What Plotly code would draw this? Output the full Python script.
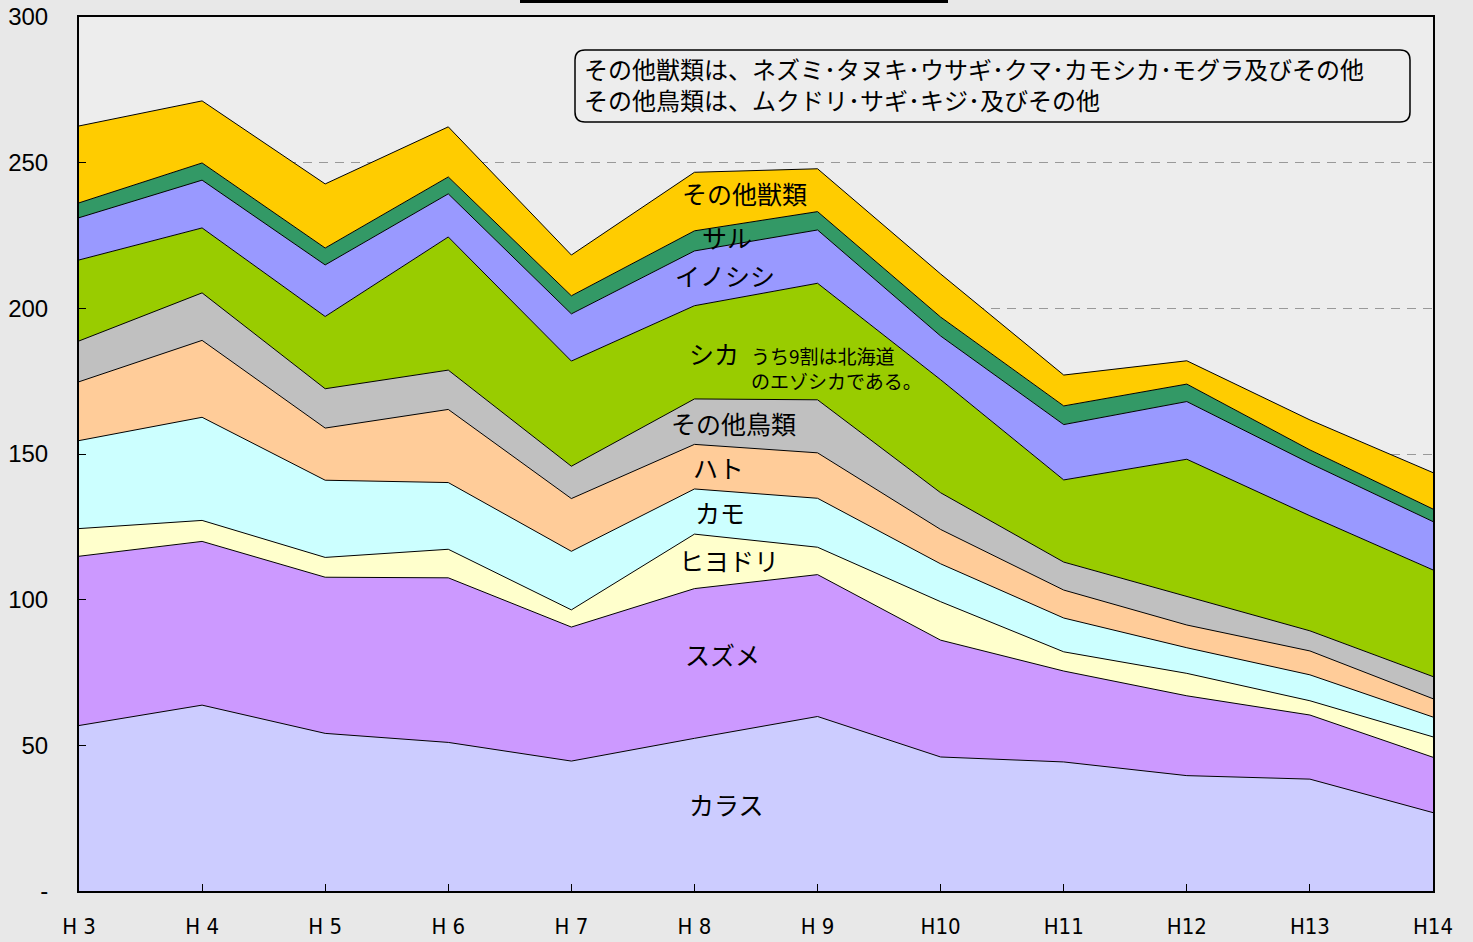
import plotly.graph_objects as go

years = ["H 3", "H 4", "H 5", "H 6", "H 7", "H 8", "H 9", "H10", "H11", "H12", "H13", "H14"]

# individual series values (stacked bottom -> top)
karasu   = [56.8, 63.8, 54.1, 51.0, 44.6, 52.4, 59.9, 46.0, 44.3, 39.6, 38.4, 26.9]
suzume   = [58.1, 56.2, 53.6, 56.5, 46.0, 51.4, 48.7, 40.1, 31.2, 27.4, 22.0, 19.0]
hiyodori = [9.5, 7.2, 6.8, 9.8, 5.9, 18.7, 9.4, 13.2, 6.6, 7.7, 4.9, 7.0]
kamo     = [30.2, 35.4, 26.5, 22.9, 20.1, 15.5, 16.8, 13.0, 11.6, 8.8, 8.9, 6.8]
hato     = [20.2, 26.4, 17.9, 25.1, 18.1, 15.3, 15.6, 11.8, 9.6, 7.8, 8.2, 6.3]
other_birds = [14.0, 16.3, 13.5, 13.5, 11.1, 15.6, 18.2, 12.6, 9.6, 9.7, 6.9, 7.6]
shika    = [27.8, 22.3, 24.8, 45.7, 36.1, 32.0, 40.0, 38.8, 28.2, 47.2, 39.5, 36.6]
inoshishi = [14.5, 16.4, 17.7, 14.8, 16.2, 18.8, 18.3, 15.0, 19.0, 19.8, 18.0, 16.6]
saru     = [5.1, 5.9, 5.8, 5.8, 6.2, 6.9, 6.3, 6.5, 6.4, 6.0, 4.6, 4.3]
other_beasts = [26.4, 21.3, 22.0, 17.2, 14.0, 20.1, 14.7, 14.8, 10.6, 8.0, 10.3, 12.5]

series_names = ["カラス", "スズメ", "ヒヨドリ", "カモ", "ハト", "その他鳥類", "シカ", "イノシシ", "サル", "その他獣類"]
series_values = [karasu, suzume, hiyodori, kamo, hato, other_birds, shika, inoshishi, saru, other_beasts]
series_colors = ["#CCCCFF", "#CC99FF", "#FFFFCC", "#CCFFFF", "#FFCC99", "#C0C0C0",
                 "#99CC00", "#9999FF", "#339966", "#FFCC00"]

y_tickvals = [0, 50, 100, 150, 200, 250, 300]
y_ticktext = ["-", "50", "100", "150", "200", "250", "300"]

note_text = ("その他獣類は、ネズミ･タヌキ･ウサギ･クマ･カモシカ･モグラ及びその他<br>"
             "その他鳥類は、ムクドリ･サギ･キジ･及びその他")
shika_note = "うち9割は北海道<br>のエゾシカである。"

xs = list(range(len(years)))

fig = go.Figure()
for name, vals, col in zip(series_names, series_values, series_colors):
    fig.add_trace(go.Scatter(
        x=xs, y=vals, name=name, stackgroup="one", mode="lines",
        line=dict(color="black", width=1), fillcolor=col, showlegend=False,
        hoverinfo="skip",
    ))

# pixel helpers for layout placement (plot area 79..1433 x 17..891)
def px(xp):
    return (xp - 79) / 1354.0

def py(yp):
    return (891 - yp) / 874.0

JP = "Noto Sans CJK JP"
label_font = dict(family=JP, size=25, color="black")

label_pos = [  # (name, x pixel, y pixel)
    ("カラス", 726, 804), ("スズメ", 722, 654), ("ヒヨドリ", 729, 560), ("カモ", 720, 512),
    ("ハト", 718, 467), ("その他鳥類", 733, 423), ("シカ", 714, 353), ("イノシシ", 725, 275),
    ("サル", 727, 237), ("その他獣類", 744, 193),
]
annotations = []
for name, xp, yp in label_pos:
    annotations.append(dict(xref="paper", yref="paper", x=px(xp), y=py(yp), text=name,
                            showarrow=False, font=label_font, xanchor="center", yanchor="middle"))
annotations.append(dict(xref="paper", yref="paper", x=px(749), y=py(368), text=shika_note,
                        showarrow=False, font=dict(family=JP, size=19, color="black"),
                        xanchor="left", yanchor="middle", align="left"))
annotations.append(dict(xref="paper", yref="paper", x=px(582), y=py(84), text=note_text,
                        showarrow=False, font=dict(family=JP, size=24, color="black"),
                        xanchor="left", yanchor="middle", align="left"))

# rounded rectangle for note box
x0, x1 = px(575), px(1410)
y0, y1 = py(122), py(50)
rx, ry = 10 / 1354.0, 10 / 874.0
path = (f"M {x0+rx},{y0} L {x1-rx},{y0} Q {x1},{y0} {x1},{y0+ry} "
        f"L {x1},{y1-ry} Q {x1},{y1} {x1-rx},{y1} L {x0+rx},{y1} "
        f"Q {x0},{y1} {x0},{y1-ry} L {x0},{y0+ry} Q {x0},{y0} {x0+rx},{y0} Z")

shapes = [
    dict(type="path", xref="paper", yref="paper", path=path,
         line=dict(color="black", width=1.5), fillcolor="rgba(0,0,0,0)", layer="above"),
    dict(type="line", xref="paper", yref="paper", x0=px(520), x1=px(948), y0=py(1.5), y1=py(1.5),
         line=dict(color="black", width=3)),
]

fig.update_layout(
    width=1473, height=942,
    margin=dict(l=79, r=40, t=17, b=51, autoexpand=False),
    paper_bgcolor="#e8e8e8",
    plot_bgcolor="#ededed",
    annotations=annotations,
    shapes=shapes,
    hovermode=False,
    xaxis=dict(
        range=[0, len(years) - 1], tickmode="array", tickvals=xs, ticktext=years,
        ticks="inside", ticklen=7, tickcolor="black", tickwidth=1,
        showline=True, linecolor="black", linewidth=2, mirror=True,
        showgrid=False, zeroline=False, automargin=False,
        tickfont=dict(family="Liberation Sans Narrow, DejaVu Sans Condensed, Arial Narrow, sans-serif",
                      size=22, color="black"),
        ticklabelstandoff=15,
    ),
    yaxis=dict(
        range=[0, 300], tickmode="array", tickvals=y_tickvals, ticktext=y_ticktext,
        ticks="inside", ticklen=7, tickcolor="black", tickwidth=1,
        showline=True, linecolor="black", linewidth=2, mirror=True,
        showgrid=True, gridcolor="#999999", griddash="9px,7px", gridwidth=1,
        zeroline=False, automargin=False,
        tickfont=dict(family="Liberation Sans, Arial, sans-serif", size=24, color="black"),
        ticklabelstandoff=24,
    ),
)

fig.write_html("out.html", config={"displayModeBar": False},
               post_script="document.body.style.margin='0px';")
